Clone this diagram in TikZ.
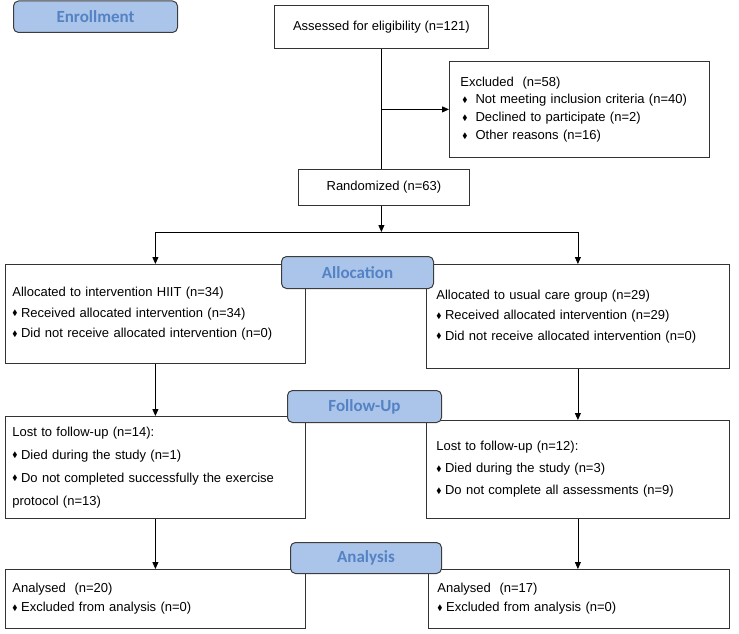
\documentclass[tikz,border=0pt]{standalone}
\usepackage{fontspec}
\usepackage{amssymb}
\setmainfont{Liberation Sans}
\newfontfamily\phasefont{Carlito}
\usetikzlibrary{arrows.meta}
\definecolor{phasefill}{RGB}{170,197,233}
\definecolor{phasetext}{RGB}{84,130,196}
\definecolor{phaseline}{RGB}{60,60,60}
\newcommand{\dmd}[1][3.5pt]{\raisebox{0.1em}{\scalebox{0.6}{$\blacklozenge$}}\hspace{#1}}

\begin{document}
\begin{tikzpicture}[x=1pt,y=-1pt,
        box/.style={draw=black!80,line width=0.8pt,anchor=north west,
            align=left,inner ysep=0pt,font=\fontsize{13}{#1}\selectfont},
        box/.default=20,
        single/.style={draw=black!80,line width=0.8pt,anchor=north west,
            align=center,font=\fontsize{13}{16}\selectfont},
        phase/.style={draw=phaseline,fill=phasefill,rounded corners=5pt,
            line width=1pt,anchor=north west,text=phasetext,
            font=\phasefont\bfseries\fontsize{17}{20}\selectfont},
        arr/.style={-{Triangle[length=7pt,width=6pt]},line width=0.8pt}]
    \useasboundingbox (0,0) rectangle (739,634);

    % enrollment
    \node[single,minimum width=214,minimum height=43] (assess) at (274,5)
        {Assessed for eligibility (n=121)};
    \node[box=17.7,minimum width=260,minimum height=96,text width=238,
        inner xsep=11pt] (excl) at (449,61)
        {Excluded\ \ (n=58)\\
         \hspace*{2pt}\dmd[8pt]Not meeting inclusion criteria (n=40)\\
         \hspace*{2pt}\dmd[8pt]Declined to participate (n=2)\\
         \hspace*{2pt}\dmd[8pt]Other reasons (n=16)};
    \node[single,minimum width=171,minimum height=36] (rand) at (298,169)
        {Randomized (n=63)};

    % allocation
    \node[box=20.5,minimum width=300,minimum height=99,text width=286,
        inner xsep=7pt] (allocL) at (5,264)
        {Allocated to intervention HIIT (n=34)\\
         \dmd Received allocated intervention (n=34)\\
         \dmd Did not receive allocated intervention (n=0)};
    \node[box=20.5,minimum width=303,minimum height=104,text width=283,
        inner xsep=10pt] (allocR) at (426,264)
        {Allocated to usual care group (n=29)\\
         \dmd Received allocated intervention (n=29)\\
         \dmd Did not receive allocated intervention (n=0)};

    % follow-up
    \node[box=23,minimum width=300,minimum height=102,text width=286,
        inner xsep=7pt] (lostL) at (5,416)
        {Lost to follow-up (n=14):\\
         \dmd Died during the study (n=1)\\
         \dmd Do not completed successfully the exercise\\
         protocol (n=13)};
    \node[box=22,minimum width=303,minimum height=98,text width=283,
        inner xsep=10pt] (lostR) at (426,420)
        {Lost to follow-up (n=12):\\
         \dmd Died during the study (n=3)\\
         \dmd Do not complete all assessments (n=9)};

    % analysis
    \node[box=19,minimum width=300,minimum height=59,text width=286,
        inner xsep=7pt] (anaL) at (5,569)
        {Analysed\ \ (n=20)\\
         \dmd Excluded from analysis (n=0)};
    \node[box=19,minimum width=301,minimum height=59,text width=283,
        inner xsep=9pt] (anaR) at (428,569)
        {Analysed\ \ (n=17)\\
         \dmd Excluded from analysis (n=0)};

    % connectors
    \coordinate (split) at (assess.south |- 0,232);
    \draw[line width=0.8pt] (assess.south) -- (assess.south |- rand.north);
    \draw[arr] (assess.south |- excl.west) -- (excl.west);
    \draw[arr] (split |- rand.south) -- (split);
    \draw[arr] (split) -| (allocL.north);
    \draw[arr] (split) -| (allocR.north);
    \draw[arr] (allocL.south) -- (allocL.south |- lostL.north);
    \draw[arr] (allocR.south) -- (allocR.south |- lostR.north);
    \draw[arr] (lostL.south) -- (lostL.south |- anaL.north);
    \draw[arr] (lostR.south) -- (lostR.south |- anaR.north);

    % phase labels
    \node[phase,minimum width=164,minimum height=31.5] (enroll) at (13,0.5)
        {Enrollment};
    \node[phase,minimum width=152,minimum height=32] (allocation) at (281,256)
        {Allocation};
    \node[phase,minimum width=154,minimum height=32] (followup) at (287,390)
        {Follow-Up};
    \node[phase,minimum width=151,minimum height=31] (analysis) at (290,542)
        {Analysis};
\end{tikzpicture}
\end{document}
